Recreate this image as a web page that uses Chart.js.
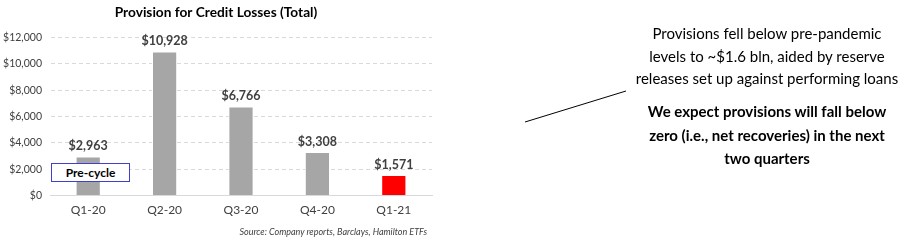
<!DOCTYPE html>
<html>
<head>
<meta charset="utf-8">
<script src="https://cdn.jsdelivr.net/npm/chart.js@4.4.1/dist/chart.umd.min.js"></script>
<style>
  body { margin: 0; background: #fff; }
  #wrap { position: relative; width: 903px; height: 241px; overflow: hidden; font-family: Lato, sans-serif; }
  #myChart { position: absolute; left: 0; top: 0; }
  .note { position: absolute; left: 617px; width: 300px; text-align: center; color: #000; font-size: 15px; }
  #precycle { position: absolute; left: 51px; top: 163px; width: 77px; height: 17px; border: 1px solid #4040d0; background: #fff;
    font-weight: bold; font-size: 12px; line-height: 17px; text-align: center; color: #000; }
  #source { position: absolute; right: 476px; top: 226px; font-size: 9px; font-style: italic; color: #404040; }
  svg { position: absolute; left: 0; top: 0; }
</style>
</head>
<body>
<div id="wrap">
  <canvas id="myChart" width="903" height="241"></canvas>
  <div id="precycle">Pre-cycle</div>
  <div id="source">Source: Company reports, Barclays, Hamilton ETFs</div>
  <svg width="903" height="241"><line x1="525" y1="122" x2="626" y2="91" stroke="#000" stroke-width="1"/></svg>
  <div class="note" style="top:22px; line-height:22.5px">Provisions fell below pre-pandemic<br>levels to ~$1.6 bln, aided by reserve<br>releases set up against performing loans</div>
  <div class="note" style="top:100px; line-height:23.5px; font-weight:bold">We expect provisions will fall below<br>zero (i.e., net recoveries) in the next<br>two quarters</div>
</div>
<script>
const ctx = document.getElementById('myChart')

Chart.defaults.font.family = 'Lato, sans-serif'
Chart.defaults.color = '#404040'

const quarters = ['Q1-20', 'Q2-20', 'Q3-20', 'Q4-20', 'Q1-21']
const provisions = [2963, 10928, 6766, 3308, 1571]
const barColors = ['#a6a6a6', '#a6a6a6', '#a6a6a6', '#a6a6a6', '#ff0000']

const money = v => '$' + v.toLocaleString('en-US')

const valueLabels = {
    id: 'valueLabels',
    afterDatasetsDraw(chart) {
        const c = chart.ctx
        const meta = chart.getDatasetMeta(0)
        c.save()
        c.font = 'bold 12.5px Lato, sans-serif'
        c.fillStyle = '#404040'
        c.textAlign = 'center'
        c.textBaseline = 'bottom'
        meta.data.forEach((bar, i) => {
            c.fillText(money(provisions[i]), bar.x, bar.y - 4)
        })
        c.restore()
    }
}

var chart = new Chart(ctx, {
    type: 'bar',
    data: {
        labels: quarters,
        datasets: [
            {
                label: 'Provision',
                data: provisions,
                backgroundColor: barColors,
                borderColor: '#ffffff',
                borderWidth: 1,
                barPercentage: 0.33,
                categoryPercentage: 1
            }
        ]
    },
    options: {
        responsive: false,
        animation: false,
        layout: {
            padding: { left: 0, right: 471, top: 0, bottom: 17 }
        },
        scales: {
            x: {
                grid: { display: false, drawTicks: false },
                border: { color: '#d9d9d9' },
                ticks: { font: { size: 12 }, padding: 7 }
            },
            y: {
                min: 0,
                max: 12000,
                afterFit: scale => { scale.width = 50 },
                ticks: { stepSize: 2000, callback: v => money(v), font: { size: 10.5 }, padding: 8 },
                grid: { color: '#d9d9d9', drawTicks: false },
                border: { display: true, color: 'rgba(0,0,0,0)', dash: [4, 3] }
            }
        },
        plugins: {
            legend: { display: false },
            tooltip: { enabled: false },
            title: {
                display: true,
                text: 'Provision for Credit Losses (Total)',
                color: '#000',
                font: { size: 13.7, weight: 'bold' },
                padding: { top: 4, bottom: 17 }
            }
        }
    },
    plugins: [valueLabels]
})
</script>
</body>
</html>
